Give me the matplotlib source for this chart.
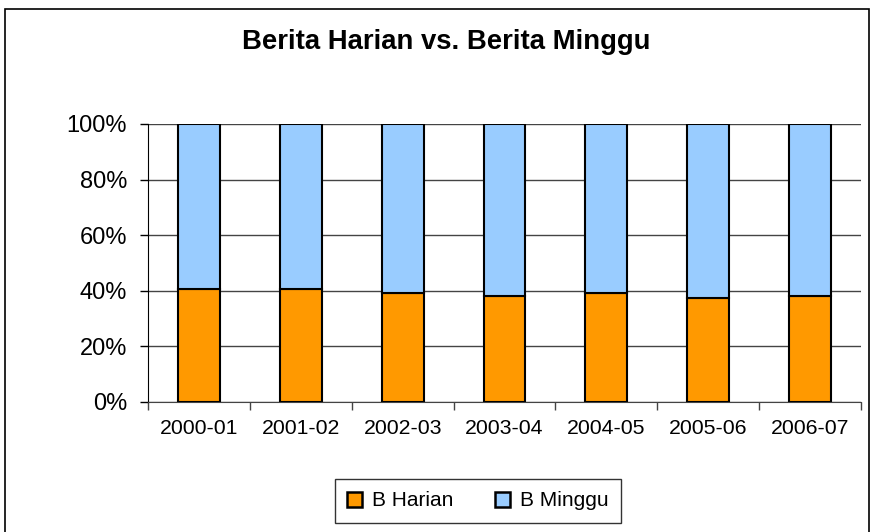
import matplotlib
matplotlib.use("Agg")
import matplotlib.pyplot as plt
from matplotlib.patches import Rectangle
from matplotlib.ticker import PercentFormatter
import numpy as np

# Data (percent share)
periods = ["2000-01", "2001-02", "2002-03", "2003-04", "2004-05", "2005-06", "2006-07"]
harian = [40.6, 40.6, 39.2, 38.3, 39.2, 37.5, 38.3]
minggu = [100 - h for h in harian]

ORANGE = "#FF9900"
BLUE = "#99CCFF"

plt.rcParams["font.family"] = ["Liberation Sans", "DejaVu Sans"]

fig = plt.figure(figsize=(8.73, 5.32), dpi=100)
fig.patch.set_facecolor("white")

# outer chart frame
fig.patches.append(Rectangle((5 / 873, -0.05), 864 / 873, 1.05 - 9 / 532,
                             transform=fig.transFigure, fill=False,
                             edgecolor="black", linewidth=1.2))

ax = fig.add_axes([148 / 873, 130 / 532, 713 / 873, 278 / 532])

x = np.arange(len(periods))
ax.bar(x, harian, width=0.41, color=ORANGE, edgecolor="black", linewidth=1.5,
       label="B Harian", zorder=3)
ax.bar(x, minggu, width=0.41, bottom=harian, color=BLUE, edgecolor="black",
       linewidth=1.5, label="B Minggu", zorder=3)

ax.set_xlim(-0.5, len(periods) - 0.5)
ax.set_ylim(0, 100)
ax.set_yticks(np.arange(0, 101, 20))
ax.yaxis.set_major_formatter(PercentFormatter(decimals=0))
ax.yaxis.grid(True, color="#444444", linewidth=1.0, zorder=0)

# category labels centred, ticks at category boundaries
ax.set_xticks(np.arange(-0.5, len(periods), 1.0))
ax.set_xticklabels([])
ax.set_xticks(x, minor=True)
ax.set_xticklabels(periods, minor=True, fontsize=15.3)
ax.tick_params(axis="x", which="minor", length=0, pad=12)
ax.tick_params(axis="x", which="major", length=6, width=1, color="#444444")
ax.tick_params(axis="y", length=6, width=1, labelsize=17, pad=9)

for side in ("top", "right"):
    ax.spines[side].set_visible(False)
ax.spines["left"].set_color("black")
ax.spines["bottom"].set_color("#444444")

fig.text(446 / 873, 1 - 42 / 532, "Berita Harian vs. Berita Minggu", ha="center",
         va="center", fontsize=19.8, fontweight="bold")

leg = fig.legend(loc="center", bbox_to_anchor=(478 / 873, 1 - 501 / 532), ncol=2,
                 fontsize=15, frameon=True, fancybox=False, edgecolor="black",
                 handlelength=0.7, handleheight=0.7, columnspacing=2.0,
                 borderpad=0.6, handletextpad=0.5)
leg.get_frame().set_linewidth(1.0)
for h in leg.legend_handles:
    h.set_linewidth(1.8)

fig.savefig("out.png", dpi=100)
